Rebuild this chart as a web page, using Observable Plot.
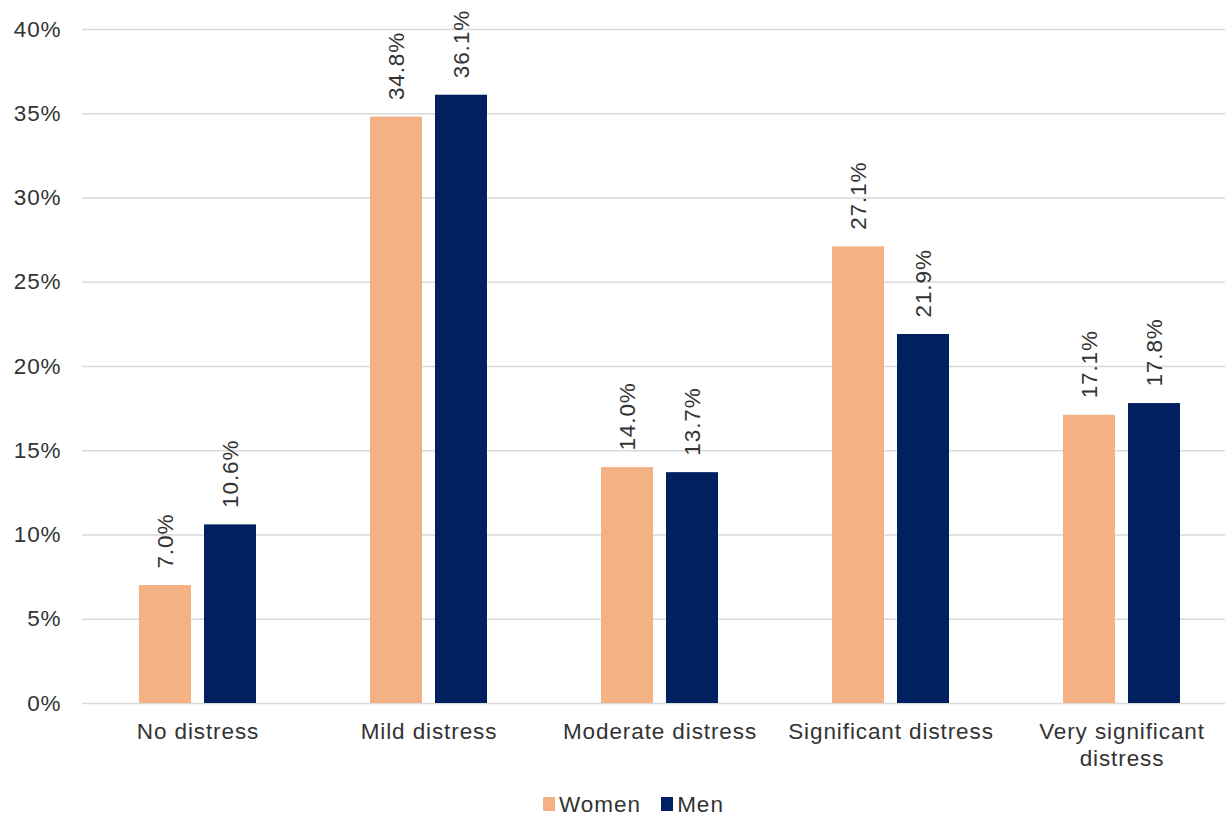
<!DOCTYPE html>
<html>
<head>
<meta charset="utf-8">
<script src="https://cdn.jsdelivr.net/npm/d3@7"></script>
<script src="https://cdn.jsdelivr.net/npm/@observablehq/plot@0.6"></script>
<style>
  html, body { margin: 0; padding: 0; background: #fff; overflow: hidden; width: 1225px; height: 817px; }
  body { font-family: "Liberation Sans", Arial, sans-serif; color: #333; }
  #chart { position: absolute; left: 0; top: 0; }
  #chart svg { max-width: none !important; }
  #legend { position: absolute; left: 543px; top: 793px; display: flex; align-items: flex-start; font-size: 22.5px; line-height: 23px; letter-spacing: 1px; color: #333; white-space: nowrap; }
  #legend .item { display: flex; align-items: flex-start; margin-right: 20px; }
  #legend .sw { width: 12px; height: 14px; margin-top: 4px; margin-right: 4px; }
</style>
</head>
<body>
<div id="chart"></div>
<div id="legend"></div>
<script>
const categories = ["No distress", "Mild distress", "Moderate distress", "Significant distress", "Very significant distress"];
const categoryLabels = ["No distress", "Mild distress", "Moderate distress", "Significant distress", "Very significant\ndistress"];
const series = ["Women", "Men"];
const women = [7.0, 34.8, 14.0, 27.1, 17.1];
const men = [10.6, 36.1, 13.7, 21.9, 17.8];
const colors = ["#F4B183", "#002060"];
const yTicks = [0, 5, 10, 15, 20, 25, 30, 35, 40];

const data = categories.flatMap((c, i) => [
  {category: c, sex: "Women", value: women[i]},
  {category: c, sex: "Men", value: men[i]}
]);

const font = "'Liberation Sans', Arial, sans-serif";

const chart = Plot.plot({
  width: 1238,
  height: 790,
  marginLeft: 81,
  marginRight: 0,
  marginTop: 29,
  marginBottom: 87,
  style: {fontFamily: font, fontSize: "22.5px", letterSpacing: "0.9px", color: "#333", background: "transparent", overflow: "visible", maxWidth: "none"},
  fx: {domain: categories, padding: 0, label: null},
  x: {domain: series, paddingInner: 0.2, paddingOuter: 0.87, axis: null},
  y: {domain: [0, 40], label: null},
  color: {domain: series, range: colors},
  marks: [
    Plot.gridY(yTicks, {stroke: "#d9d9d9", strokeOpacity: 1, strokeWidth: 1.5}),
    Plot.axisY({ticks: yTicks, tickFormat: d => d + "%", tickSize: 0, tickPadding: 21, fontSize: 22.5, fill: "#333", label: null}),
    Plot.axisFx({anchor: "bottom", tickFormat: d => categoryLabels[categories.indexOf(d)], tickSize: 0, tickPadding: 16, fontSize: 22.5, lineHeight: 1.2, fill: "#333", label: null}),
    Plot.barY(data, {fx: "category", x: "sex", y: "value", fill: "sex"}),
    Plot.text(data, {fx: "category", x: "sex", y: "value", text: d => d.value.toFixed(1) + "%", rotate: -90, textAnchor: "start", dy: -17, fontSize: 22.5, fill: "#333"})
  ]
});
chart.style.maxWidth = "none";
document.getElementById("chart").appendChild(chart);

const legend = document.getElementById("legend");
series.forEach((s, i) => {
  const item = document.createElement("div");
  item.className = "item";
  const sw = document.createElement("span");
  sw.className = "sw";
  sw.style.background = colors[i];
  const t = document.createElement("span");
  t.textContent = s;
  item.appendChild(sw);
  item.appendChild(t);
  legend.appendChild(item);
});
</script>
</body>
</html>
